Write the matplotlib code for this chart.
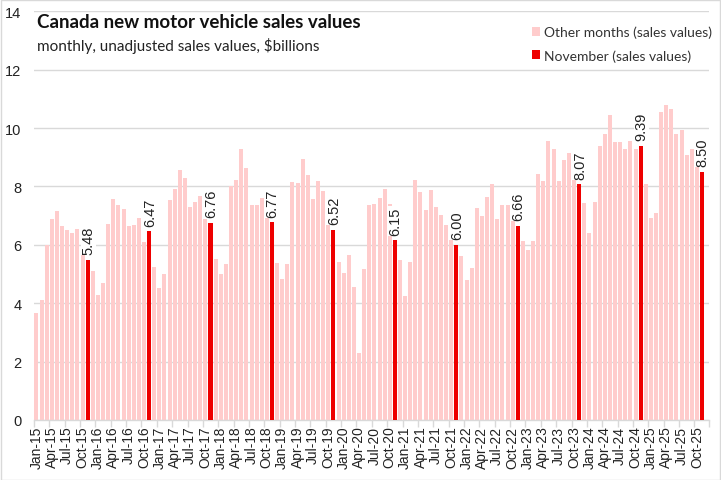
import matplotlib
matplotlib.use("Agg")
import matplotlib.pyplot as plt
from matplotlib.patches import Patch, Rectangle

# ---- data ----
start_year = 2015
start_month = 1
values = [
    # 2015
    3.68, 4.11, 5.99, 6.89, 7.16, 6.65, 6.51, 6.41, 6.54, 5.97, 5.48, 5.10,
    # 2016
    4.28, 4.69, 6.70, 7.57, 7.37, 7.23, 6.65, 6.69, 6.91, 6.10, 6.47, 5.23,
    # 2017
    4.52, 4.99, 7.54, 7.92, 8.57, 8.29, 7.31, 7.46, 7.66, 6.89, 6.76, 5.51,
    # 2018
    5.00, 5.34, 8.01, 8.22, 9.29, 8.64, 7.37, 7.37, 7.61, 7.09, 6.77, 5.38,
    # 2019
    4.83, 5.34, 8.14, 8.12, 8.95, 8.40, 7.57, 8.20, 7.85, 7.60, 6.52, 5.42,
    # 2020
    5.03, 5.65, 4.55, 2.29, 5.17, 7.37, 7.40, 7.61, 7.92, 7.40, 6.15, 5.48,
    # 2021
    4.24, 5.42, 8.22, 7.80, 7.19, 7.88, 7.31, 7.02, 6.69, 6.37, 6.00, 5.62,
    # 2022
    4.79, 5.19, 7.26, 7.00, 7.65, 8.09, 6.89, 7.37, 7.37, 6.85, 6.66, 6.12,
    # 2023
    5.82, 6.12, 8.43, 8.19, 9.56, 9.29, 8.19, 8.91, 9.15, 8.40, 8.07, 7.44,
    # 2024
    6.41, 7.47, 9.39, 9.80, 10.46, 9.51, 9.51, 9.29, 9.56, 9.29, 9.39, 8.09,
    # 2025
    6.92, 7.09, 10.56, 10.80, 10.66, 9.80, 9.94, 9.08, 9.29, 9.25, 8.50,
]
month_names = ["Jan", "Feb", "Mar", "Apr", "May", "Jun",
               "Jul", "Aug", "Sep", "Oct", "Nov", "Dec"]
labels = []
months = []
for i in range(len(values)):
    m = (start_month - 1 + i) % 12
    y = start_year + (start_month - 1 + i) // 12
    months.append(m)
    labels.append(f"{month_names[m]}-{y % 100:02d}")

title = "Canada new motor vehicle sales values"
subtitle = "monthly, unadjusted sales values, $billions"
legend_other = "Other months (sales values)"
legend_nov = "November (sales values)"

# ---- styling ----
pink = "#FFCCCC"
red = "#EE0000"
grid = "#D9D9D9"

plt.rcParams['font.family'] = ['Liberation Sans', 'DejaVu Sans']

fig = plt.figure(figsize=(7.21, 4.81), dpi=100)
ax = fig.add_axes([33.9 / 721, 1 - 421 / 481, (709 - 33.9) / 721, (421 - 12.3) / 481])

x = list(range(len(values)))
other_x = [i for i in x if months[i] != 10]
other_v = [values[i] for i in other_x]
nov_x = [i for i in x if months[i] == 10]
nov_v = [values[i] for i in nov_x]

ax.bar(other_x, other_v, width=0.78, color=pink, zorder=2)
ax.bar(nov_x, nov_v, width=0.8, color=red, zorder=3)

for xi, vi in zip(nov_x, nov_v):
    ax.annotate(f"{vi:.2f}", (xi, vi), xytext=(0.5, 4), textcoords="offset points",
                rotation=90, ha="center", va="bottom", fontsize=10.5,
                color="#222222", zorder=4,
                bbox=dict(boxstyle="square,pad=0.05", facecolor="white", edgecolor="none"))

xmax = len(values) - 0.5 + 0.85
ax.set_xlim(-0.5, xmax)
ax.set_ylim(0, 14)
ax.set_yticks(range(0, 15, 2))
ax.yaxis.grid(True, color=grid, linewidth=1, zorder=0)
ax.set_axisbelow(True)

tick_pos = [i for i in x if i % 3 == 0]
ax.set_xticks(tick_pos)
ax.set_xticklabels([labels[i] for i in tick_pos], rotation=90, fontsize=10)
ax.tick_params(axis="x", length=0, pad=4, colors="#222222")
ax.set_xticks([i - 0.5 for i in x if i % 3 == 0] + [xmax], minor=True)
ax.tick_params(axis="x", which="minor", length=5, color=grid, width=1)
ax.tick_params(axis="y", length=0, labelsize=10.5, colors="#222222", pad=9)

for s in ["top", "right", "left"]:
    ax.spines[s].set_visible(False)
ax.spines["bottom"].set_color(grid)
ax.spines["bottom"].set_linewidth(1)

fig.text(37 / 721, 1 - 22 / 481, title, fontsize=13.5, fontweight="bold",
         family=["Lato", "DejaVu Sans"], va="center", ha="left", color="#111111")
fig.text(37 / 721, 1 - 46 / 481, subtitle, fontsize=11,
         family=["Lato", "DejaVu Sans"], va="center", ha="left", color="#222222")

handles = [Patch(facecolor=pink, edgecolor="none"), Patch(facecolor=red, edgecolor="none")]
leg = ax.legend(handles, [legend_other, legend_nov], loc="upper left",
                bbox_to_anchor=(526 / 721, 1 - 21 / 481), bbox_transform=fig.transFigure,
                frameon=False, handlelength=0.6, handleheight=0.6,
                handletextpad=0.3, labelspacing=0.8, borderaxespad=0,
                prop={"family": ["Lato", "DejaVu Sans"], "size": 10})
for t in leg.get_texts():
    t.set_color("#333333")

fig.patches.append(Rectangle((0.001, 0.001), 0.998, 0.997, transform=fig.transFigure,
                             fill=False, edgecolor="#D9D9D9", linewidth=1))

fig.savefig("out.png", dpi=100)
